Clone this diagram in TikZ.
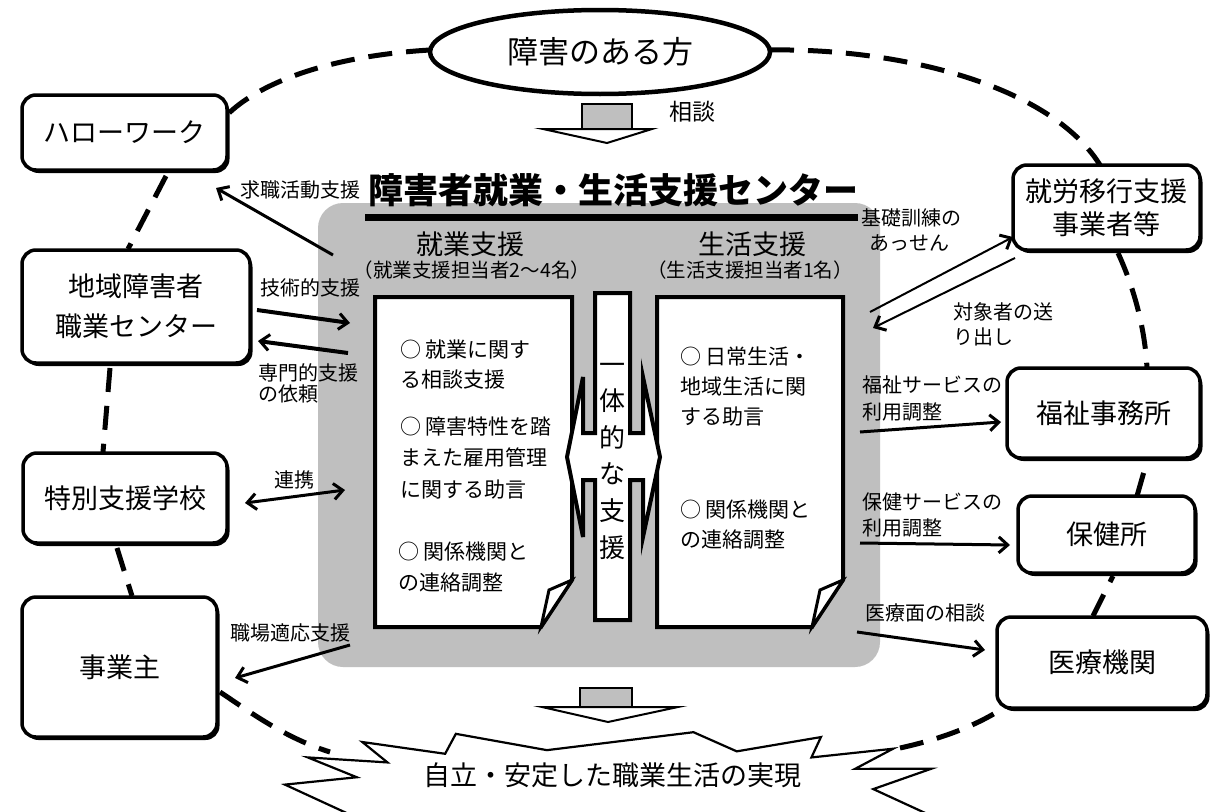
\documentclass[tikz,border=0pt]{standalone}
\usepackage{fontspec}
\setmainfont{Noto Sans CJK JP}
\usetikzlibrary{arrows.meta,shapes.geometric,shadows}
\begin{document}
\begin{tikzpicture}[x=1pt,y=-1pt,
  orgbox/.style={draw, line width=3.5pt, rounded corners=14pt, fill=white, align=center, inner sep=0pt, font=\fontsize{27}{33}\selectfont,
     drop shadow={shadow xshift=2.5pt, shadow yshift=-3pt, fill=black, opacity=1}},
  lbl/.style={inner sep=0pt, font=\fontsize{20}{24}\selectfont},
  doctext/.style={inner sep=0pt, anchor=west, font=\fontsize{21}{25}\selectfont},
  dashline/.style={line width=5pt, dash pattern=on 24pt off 14pt},
  arr/.style={line width=3pt, -{Straight Barb[length=9pt,width=16pt,line width=3pt]}},
  darr/.style={line width=3pt, {Straight Barb[length=9pt,width=16pt,line width=3pt]}-{Straight Barb[length=9pt,width=16pt,line width=3pt]}},
  docbox/.style={draw, line width=4pt, fill=white, line join=miter},
  stipple/.style={fill=gray!50}
]
\useasboundingbox (0,0) rectangle (1215,811);
\clip (0,0) rectangle (1215,811);
\fill[white] (0,0) rectangle (1215,811);

% ---------- dashed outer loop ----------
\coordinate (d1a) at (430,50);   \coordinate (d1b) at (229,113);
\coordinate (d2a) at (166,176);  \coordinate (d2b) at (128,249);
\coordinate (d3a) at (110,368);  \coordinate (d3b) at (103,452);
\coordinate (d4a) at (117,548);  \coordinate (d4b) at (132,596);
\coordinate (d5a) at (220,692);  \coordinate (d5b) at (330,752);
\coordinate (d6a) at (900,748);  \coordinate (d6b) at (1005,707);
\coordinate (d7a) at (1093,616); \coordinate (d7b) at (1113,576);
\coordinate (d8a) at (1137,496); \coordinate (d8b) at (1147,461);
\coordinate (d9a) at (1118,253); \coordinate (d9b) at (1147,368);
\coordinate (d10a) at (770,50);  \coordinate (d10b) at (1100,165);
\draw[dashline] (d1a) .. controls (330,56) and (262,82) .. (d1b);
\draw[dashline] (d2a) -- (d2b);
\draw[dashline] (d3a) -- (d3b);
\draw[dashline] (d4a) -- (d4b);
\draw[dashline] (d5a) .. controls (250,712) and (285,738) .. (d5b);
\draw[dashline] (d6a) .. controls (950,737) and (982,722) .. (d6b);
\draw[dashline] (d7a) -- (d7b);
\draw[dashline] (d8a) -- (d8b);
\draw[dashline] (d9a) .. controls (1135,290) and (1145,330) .. (d9b);
\draw[dashline] (d10a) .. controls (900,48) and (1050,85) .. (d10b);

% ---------- top person ellipse ----------
\node[draw, ellipse, line width=4.5pt, fill=white, minimum width=340pt, minimum height=84pt, font=\fontsize{31}{36}\selectfont] (person) at (600,52) {障害のある方};

% top block arrow
\fill[stipple] (582,104) rectangle (632,129);
\draw[line width=1.5pt] (582,129) -- (582,104) -- (632,104) -- (632,129);
\draw[line width=2pt, fill=white] (543,129) -- (652,129) -- (607,143) -- cycle;
\node[lbl, font=\fontsize{23}{26}\selectfont] (soudan) at (692,112) {相談};

% ---------- centre stippled area ----------
\fill[stipple, rounded corners=25pt] (318,203) rectangle (880,667);
\node[inner sep=0pt, font=\fontsize{35}{40}\selectfont\bfseries] (title) at (613,190) {障害者就業・生活支援センター};
\draw[line width=7pt] (365,217) -- (858,217);

\node[inner sep=0pt, font=\fontsize{27}{30}\selectfont] (shugyo) at (470,244) {就業支援};
\node[inner sep=0pt, font=\fontsize{27}{30}\selectfont] (seikatsu) at (752,244) {生活支援};
\node[inner sep=0pt, font=\fontsize{19.5}{22}\selectfont] (shugyo2) at (472,270) {（就業支援担当者2～4名）};
\node[inner sep=0pt, font=\fontsize{19.5}{22}\selectfont] (seikatsu2) at (750,270) {（生活支援担当者1名）};

% left document
\draw[docbox] (375,297) -- (572,297) -- (572,580) -- (541,627) -- (375,627) -- cycle;
\draw[line width=3pt, fill=white, line join=miter] (572,580) -- (549,590) -- (541,627) -- cycle;
\node[doctext] (l1) at (400,350) {○ 就業に関す};
\node[doctext] (l2) at (400,380) {る相談支援};
\node[doctext] (l3) at (400,427) {○ 障害特性を踏};
\node[doctext] (l4) at (400,458) {まえた雇用管理};
\node[doctext] (l5) at (400,490) {に関する助言};
\node[doctext] (l6) at (398,552) {○ 関係機関と};
\node[doctext] (l7) at (398,583) {の連絡調整};

% right document
\draw[docbox] (657,297) -- (843,297) -- (843,580) -- (812,627) -- (657,627) -- cycle;
\draw[line width=3pt, fill=white, line join=miter] (843,580) -- (820,590) -- (812,627) -- cycle;
\node[doctext] (r1) at (680,357) {○ 日常生活・};
\node[doctext] (r2) at (680,387) {地域生活に関};
\node[doctext] (r3) at (680,417) {する助言};
\node[doctext] (r4) at (680,510) {○ 関係機関と};
\node[doctext] (r5) at (680,540) {の連絡調整};

% middle integrated-support double arrow
\draw[line width=4pt, fill=white, line join=miter]
  (595,293) -- (630,293) -- (630,433) -- (643,433) -- (643,377) -- (660,457) -- (643,537) -- (643,480)
  -- (630,480) -- (630,620) -- (595,620) -- (595,480) -- (583,480) -- (583,537) -- (567,457)
  -- (583,377) -- (583,433) -- (595,433) -- cycle;
\node[inner sep=0pt, align=center, font=\fontsize{26}{36.6}\selectfont] (ittai) at (612,461) {一\\体\\的\\な\\支\\援};

% bottom block arrow
\fill[stipple] (580,688) rectangle (632,707);
\draw[line width=1.5pt] (580,707) -- (580,688) -- (632,688) -- (632,707);
\draw[line width=2pt, fill=white] (542,707) -- (678,707) -- (608,722) -- cycle;

% starburst
\draw[line width=2.2pt, fill=white, line join=miter]
  plot[samples at={0,...,31}, variable=\k]
  ({612+(mod(\k,2)==0 ? 328 : 262)*(cos(\k*11.25+5.625)<0 ? -1 : 1)*pow(abs(cos(\k*11.25+5.625)),0.6)},
   {802+(mod(\k,2)==0 ? 70 : 52)*(sin(\k*11.25+5.625)<0 ? -1 : 1)*pow(abs(sin(\k*11.25+5.625)),0.6)}) -- cycle;
\node[inner sep=0pt, font=\fontsize{27}{30}\selectfont] (goal) at (612,775) {自立・安定した職業生活の実現};

% ---------- outer boxes ----------
\node[orgbox, minimum width=205pt, minimum height=75pt] (hw) at (124.5,132.5) {ハローワーク};
\node[orgbox, minimum width=228pt, minimum height=113pt, font=\fontsize{27}{40}\selectfont] (chiiki) at (136,306.5) {地域障害者\\職業センター};
\node[orgbox, minimum width=204pt, minimum height=90pt] (toku) at (125,498) {特別支援学校};
\node[orgbox, minimum width=195pt, minimum height=140pt] (jigyo) at (119.5,667) {事業主};
\node[orgbox, minimum width=187pt, minimum height=85pt] (shuro) at (1106.5,207.5) {就労移行支援\\事業者等};
\node[orgbox, minimum width=193pt, minimum height=90pt] (fuku) at (1103.5,413) {福祉事務所};
\node[orgbox, minimum width=177pt, minimum height=77pt] (hoken) at (1106.5,534.5) {保健所};
\node[orgbox, minimum width=210pt, minimum height=91pt] (iryo) at (1102,662.5) {医療機関};

% ---------- arrows ----------
\coordinate (a1s) at (333,255);  \coordinate (a1e) at (216,188);
\coordinate (a2s) at (257,310);  \coordinate (a2e) at (350,323);
\coordinate (a3s) at (348,353);  \coordinate (a3e) at (258,341);
\coordinate (a4s) at (245,503);  \coordinate (a4e) at (345,490);
\coordinate (a5s) at (350,645);  \coordinate (a5e) at (235,678);
\coordinate (a6s) at (870,312);  \coordinate (a6e) at (1013,237);
\coordinate (a7s) at (1015,258); \coordinate (a7e) at (873,328);
\coordinate (a8s) at (860,432);  \coordinate (a8e) at (1001,422);
\coordinate (a9s) at (860,543);  \coordinate (a9e) at (1010,545);
\coordinate (a10s) at (857,632); \coordinate (a10e) at (985,650);
\draw[arr] (a1s) -- (a1e);
\draw[arr, line width=4pt] (a2s) -- (a2e);
\draw[arr, line width=4pt] (a3s) -- (a3e);
\draw[darr] (a4s) -- (a4e);
\draw[arr] (a5s) -- (a5e);
\draw[arr, line width=2pt] (a6s) -- (a6e);
\draw[arr, line width=2pt] (a7s) -- (a7e);
\draw[arr] (a8s) -- (a8e);
\draw[arr] (a9s) -- (a9e);
\draw[arr] (a10s) -- (a10e);

% ---------- arrow labels ----------
\node[lbl, anchor=west] (t1) at (240,190) {求職活動支援};
\node[lbl, anchor=west] (t2) at (260,288) {技術的支援};
\node[lbl, anchor=west] (t3a) at (258,373) {専門的支援};
\node[lbl, anchor=west] (t3b) at (258,394) {の依頼};
\node[lbl] (t4) at (294,480) {連携};
\node[lbl, anchor=west] (t5) at (230,633) {職場適応支援};
\node[lbl, anchor=west] (t6a) at (861,218) {基礎訓練の};
\node[lbl, anchor=west] (t6b) at (869,243) {あっせん};
\node[lbl, anchor=west] (t7a) at (953,312) {対象者の送};
\node[lbl, anchor=west] (t7b) at (953,337) {り出し};
\node[lbl, anchor=west] (t8a) at (862,385) {福祉サービスの};
\node[lbl, anchor=west] (t8b) at (862,412) {利用調整};
\node[lbl, anchor=west] (t9a) at (862,502) {保健サービスの};
\node[lbl, anchor=west] (t9b) at (862,528) {利用調整};
\node[lbl, anchor=west] (t10) at (865,613) {医療面の相談};
\end{tikzpicture}
\end{document}
